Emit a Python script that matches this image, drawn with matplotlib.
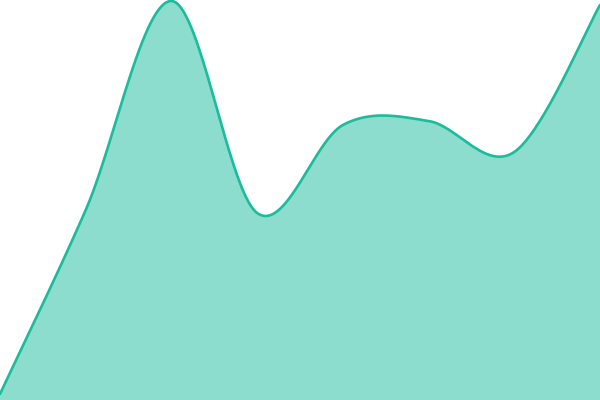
import numpy as np
import matplotlib
matplotlib.use("Agg")
import matplotlib.pyplot as plt

# sample values (evenly spaced points)
steps = [0, 1, 2, 3, 4, 5, 6, 7]
values = [6, 190, 399, 187, 275, 279, 248, 395]


def cardinal(xs, ys, n=60):
    # cardinal spline (tension 0), endpoints duplicated like d3.curveCardinal
    px = [xs[0]] + list(xs) + [xs[-1]]
    py = [ys[0]] + list(ys) + [ys[-1]]
    t = np.linspace(0, 1, n)
    outx, outy = [], []
    for i in range(1, len(px) - 2):
        x0, x1, x2, x3 = px[i - 1], px[i], px[i + 1], px[i + 2]
        y0, y1, y2, y3 = py[i - 1], py[i], py[i + 1], py[i + 2]
        cx1, cy1 = x1 + (x2 - x0) / 6, y1 + (y2 - y0) / 6
        cx2, cy2 = x2 - (x3 - x1) / 6, y2 - (y3 - y1) / 6
        a, b, c, d = (1 - t) ** 3, 3 * (1 - t) ** 2 * t, 3 * (1 - t) * t ** 2, t ** 3
        outx.append(a * x1 + b * cx1 + c * cx2 + d * x2)
        outy.append(a * y1 + b * cy1 + c * cy2 + d * y2)
    return np.concatenate(outx), np.concatenate(outy)


cx, cy = cardinal(steps, values)

fig = plt.figure(figsize=(6, 4), dpi=100)
ax = fig.add_axes([0, 0, 1, 1])
ax.fill_between(cx, 0, cy, color='#1abc9c', alpha=0.5, lw=0)
ax.plot(cx, cy, color='#1abc9c', lw=1.9, solid_capstyle='round')
ax.set_xlim(steps[0], steps[-1])
ax.set_ylim(0, 400)
ax.axis('off')
fig.savefig('out.png', dpi=100)
